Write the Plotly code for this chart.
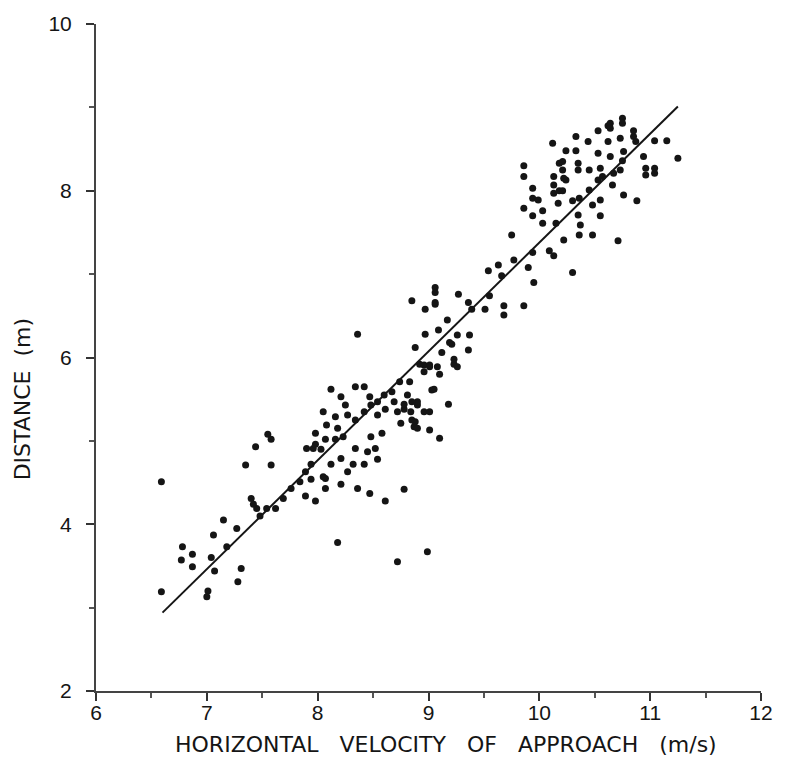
import plotly.graph_objects as go

# Horizontal velocity of approach (m/s)
velocity = [
    6.59, 6.59, 6.78, 6.77, 6.87, 6.87, 7.01, 7.00, 7.06, 7.15, 7.27, 7.18, 7.04, 7.07, 7.31, 7.28,
    7.35, 7.44, 7.55, 7.58, 7.58, 7.40, 7.45, 7.48, 7.54, 7.62, 7.69, 7.76, 7.42,
    7.84, 7.89, 7.94, 7.96, 7.98, 8.03, 8.05, 8.08, 7.94, 7.89, 7.98, 8.07, 8.07,
    8.12, 8.21, 8.25, 8.16, 8.27, 8.34, 8.18, 7.90, 7.98, 8.07, 8.16, 8.23, 8.34, 8.21, 8.12,
    8.32, 8.27, 8.05, 8.21, 8.36, 8.36, 8.34, 8.18, 8.72, 8.99,
    8.42, 8.48, 8.42, 8.54, 8.60, 8.67, 8.74, 8.83, 8.69, 8.72, 8.78, 8.84, 8.90, 8.85, 8.87,
    8.75, 8.54, 8.61, 8.47, 8.81, 8.48, 8.58, 8.45, 8.52, 8.54, 8.42, 8.47, 8.61, 8.78,
    8.96, 8.92, 9.01, 9.10, 9.03, 8.96, 9.01, 9.01, 9.10, 9.18, 8.90, 8.88, 9.12, 9.21, 9.26,
    9.37, 9.36, 9.23, 8.97, 9.17, 8.97, 9.06, 9.06, 9.06, 9.06, 8.85, 9.09, 9.19,
    8.96, 9.01, 9.08, 9.26, 9.23, 9.05, 8.78, 8.85, 8.88, 8.90,
    9.27, 9.36, 9.39, 9.51, 9.68, 9.68, 9.86, 9.55, 9.54, 9.63, 9.75, 9.77, 9.66, 9.90, 9.94,
    9.95, 9.86, 9.86, 9.86, 9.94, 9.94, 9.99, 9.94, 10.03, 10.03, 10.09, 10.13, 10.13, 10.13,
    10.13, 10.17, 10.18, 10.12,
    10.24, 10.18, 10.30, 10.36, 10.45, 10.53, 10.48, 10.55, 10.35, 10.37, 10.55, 10.36, 10.48,
    10.22, 10.15, 10.30, 10.71, 10.24, 10.33, 10.33, 10.35, 10.35, 10.44, 10.53, 10.62, 10.75,
    10.75, 10.64, 10.64, 10.85, 10.85, 10.87, 10.62, 10.73, 11.04, 11.15, 11.25, 10.94, 10.96,
    10.96, 11.04, 11.04, 10.76, 10.64, 10.53, 10.75, 10.21, 10.21, 10.22, 10.45, 10.55, 10.57,
    10.67, 10.73, 10.66, 10.76, 10.88, 10.21,
]

# Distance (m)
distance = [
    4.51, 3.19, 3.73, 3.57, 3.64, 3.49, 3.20, 3.13, 3.87, 4.05, 3.95, 3.73, 3.60, 3.44, 3.47, 3.31,
    4.71, 4.93, 5.08, 5.02, 4.71, 4.31, 4.19, 4.10, 4.19, 4.19, 4.31, 4.43, 4.24,
    4.51, 4.63, 4.72, 4.91, 5.09, 4.90, 5.35, 5.19, 4.54, 4.34, 4.28, 4.55, 4.43,
    5.62, 5.53, 5.43, 5.29, 5.31, 5.25, 5.15, 4.91, 4.96, 5.02, 5.02, 5.05, 4.91, 4.79, 4.72,
    4.72, 4.63, 4.57, 4.48, 4.43, 6.28, 5.65, 3.78, 3.55, 3.67,
    5.65, 5.43, 5.35, 5.47, 5.55, 5.59, 5.71, 5.71, 5.47, 5.35, 5.38, 5.35, 5.43, 5.25, 5.17,
    5.21, 5.31, 5.38, 5.53, 5.55, 5.05, 5.09, 4.87, 4.91, 4.78, 4.72, 4.37, 4.28, 4.42,
    5.83, 5.92, 5.89, 5.80, 5.61, 5.35, 5.35, 5.13, 5.03, 5.44, 5.47, 6.12, 6.06, 6.16, 6.27,
    6.27, 6.09, 5.92, 6.28, 6.45, 6.58, 6.64, 6.84, 6.78, 6.66, 6.68, 6.33, 6.18,
    5.91, 5.91, 5.89, 5.89, 5.98, 5.62, 5.44, 5.47, 5.23, 5.15,
    6.76, 6.66, 6.58, 6.58, 6.62, 6.51, 6.62, 6.74, 7.04, 7.11, 7.47, 7.17, 6.98, 7.08, 7.26,
    6.90, 7.79, 8.17, 8.30, 8.03, 7.91, 7.89, 7.70, 7.76, 7.61, 7.28, 7.22, 8.17, 8.07,
    7.97, 7.85, 8.33, 8.57,
    8.13, 8.00, 7.88, 7.91, 8.01, 8.13, 7.83, 7.89, 7.71, 7.59, 7.70, 7.47, 7.47,
    7.41, 7.61, 7.02, 7.40, 8.48, 8.65, 8.48, 8.33, 8.25, 8.59, 8.72, 8.78, 8.87,
    8.81, 8.81, 8.75, 8.72, 8.65, 8.59, 8.59, 8.63, 8.60, 8.60, 8.39, 8.41, 8.27,
    8.19, 8.27, 8.21, 8.47, 8.41, 8.45, 8.36, 8.35, 8.25, 8.15, 8.25, 8.27, 8.17,
    8.21, 8.25, 8.07, 7.95, 7.88, 8.00,
]

# Fitted regression line (end points)
fit_velocity = [6.60, 11.25]
fit_distance = [2.94, 9.01]

x_ticks = [6, 7, 8, 9, 10, 11, 12]
y_ticks = [2, 4, 6, 8, 10]

x_title_words = ["HORIZONTAL", "VELOCITY", "OF", "APPROACH", "(m/s)"]
y_title_words = ["DISTANCE", "(m)"]
x_gap = "\u00a0" * 3
y_gap = "\u00a0" * 2

ink = "#151515"
tick_font = "Liberation Sans, Arial, sans-serif"
title_font = "DejaVu Sans, sans-serif"

fig = go.Figure()
fig.add_trace(go.Scatter(
    x=velocity, y=distance, mode="markers",
    marker=dict(size=7, color=ink, line=dict(width=0)),
    showlegend=False, hoverinfo="skip",
))
fig.add_trace(go.Scatter(
    x=fit_velocity, y=fit_distance, mode="lines",
    line=dict(color=ink, width=2),
    showlegend=False, hoverinfo="skip",
))

fig.update_layout(
    width=785, height=760, autosize=False,
    margin=dict(l=96, r=17, t=20, b=69),
    paper_bgcolor="white", plot_bgcolor="white",
    font=dict(family=tick_font, color=ink),
    annotations=[
        dict(text=x_gap.join(x_title_words), xref="paper", yref="paper",
             x=0.527, y=-0.0805, xanchor="center", yanchor="middle",
             showarrow=False, font=dict(size=22, family=title_font, color=ink)),
        dict(text=y_gap.join(y_title_words), xref="paper", yref="paper",
             x=-0.110, y=0.437, xanchor="center", yanchor="middle", textangle=-90,
             showarrow=False, font=dict(size=22, family=title_font, color=ink)),
    ],
)
fig.update_xaxes(
    range=[6, 12], tickvals=x_ticks, ticktext=[str(v) for v in x_ticks],
    showgrid=False, zeroline=False, showline=True, linecolor="#444", linewidth=2,
    ticks="outside", ticklen=8, tickwidth=2, tickcolor="#333",
    minor=dict(dtick=0.5, tick0=6, ticks="outside", ticklen=5, tickwidth=1.5, tickcolor="#555"),
    tickfont=dict(size=21, family=tick_font, color=ink),
    ticklabelstandoff=-6,
)
fig.update_yaxes(
    range=[2, 10], tickvals=y_ticks, ticktext=[str(v) for v in y_ticks],
    showgrid=False, zeroline=False, showline=True, linecolor="#444", linewidth=2,
    ticks="outside", ticklen=8, tickwidth=2, tickcolor="#333",
    minor=dict(dtick=1, tick0=2, ticks="outside", ticklen=5, tickwidth=1.5, tickcolor="#555"),
    tickfont=dict(size=21, family=tick_font, color=ink),
    ticklabelstandoff=10,
)

fig.write_html("out.html")
